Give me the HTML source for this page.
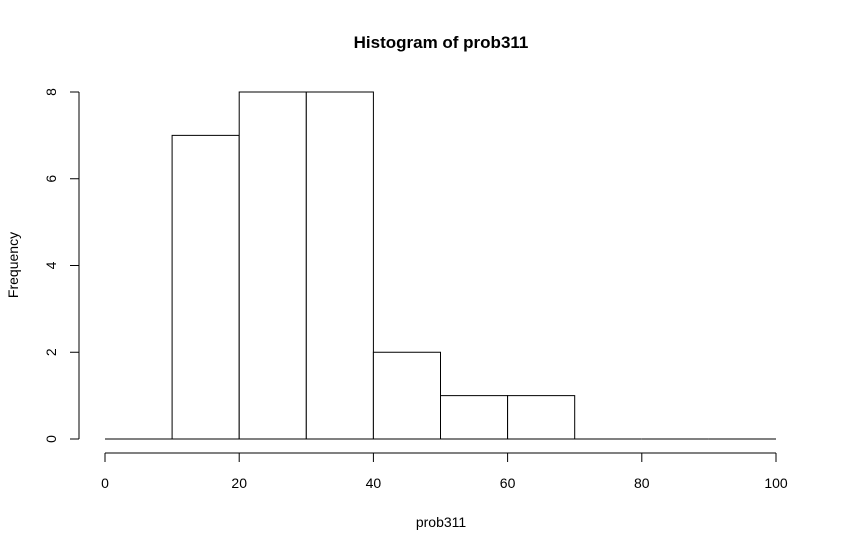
<!DOCTYPE html>
<html><head><meta charset="utf-8"><style>body{margin:0;background:#fff}svg{display:block;font-family:"Liberation Sans",Arial,sans-serif}</style></head>
<body>
<svg id="chart" width="844" height="551" viewBox="0 0 844 551">
<text x="441" y="48" text-anchor="middle" font-size="17" font-weight="bold">Histogram of prob311</text>
<text x="441" y="527" text-anchor="middle" font-size="14">prob311</text>
<text transform="translate(18,265) rotate(-90)" text-anchor="middle" font-size="14">Frequency</text>
<g id="bars"></g><g id="xaxis"></g><g id="yaxis"></g>
</svg>
<script>
const binStarts=[0,10,20,30,40,50,60,70,80,90];
const binWidth=10;
const counts=[0,7,8,8,2,1,1,0,0,0];
const xTicks=[0,20,40,60,80,100];
const yTicks=[0,2,4,6,8];
const NS='http://www.w3.org/2000/svg';
const xs=v=>105+v*6.71;
const ys=v=>439-v*43.375;
function mk(t,a,p){const e=document.createElementNS(NS,t);for(const k in a)e.setAttribute(k,a[k]);p.appendChild(e);return e;}
const bars=document.getElementById('bars');
binStarts.forEach((b,i)=>{
 const x0=xs(b),x1=xs(b+binWidth),y=ys(counts[i]);
 let r;
 if(counts[i]===0){
  r=mk('line',{x1:x0,x2:x1,y1:ys(0),y2:ys(0),stroke:'#000','stroke-width':1},bars);
 } else {
  r=mk('rect',{x:x0,y:y,width:x1-x0,height:ys(0)-y,fill:'#fff',stroke:'#000','stroke-width':1},bars);
 }
 
 
});
const xa=document.getElementById('xaxis');
const xl=mk('line',{x1:xs(xTicks[0]),x2:xs(xTicks[xTicks.length-1]),y1:453,y2:453,stroke:'#000'},xa);


xTicks.forEach(t=>{
 const l=mk('line',{x1:xs(t),x2:xs(t),y1:453,y2:462,stroke:'#000'},xa);
 
 
 const tx=mk('text',{x:xs(t),y:488,'text-anchor':'middle','font-size':14},xa);tx.textContent=t;
 
 
});
const ya=document.getElementById('yaxis');
const yl=mk('line',{x1:79,x2:79,y1:ys(yTicks[0]),y2:ys(yTicks[yTicks.length-1]),stroke:'#000'},ya);


yTicks.forEach(t=>{
 const l=mk('line',{x1:70,x2:79,y1:ys(t),y2:ys(t),stroke:'#000'},ya);
 
 
 const tx=mk('text',{transform:'translate(56,'+ys(t)+') rotate(-90)','text-anchor':'middle','font-size':14},ya);tx.textContent=t;
 
 
});
</script>
</body></html>
